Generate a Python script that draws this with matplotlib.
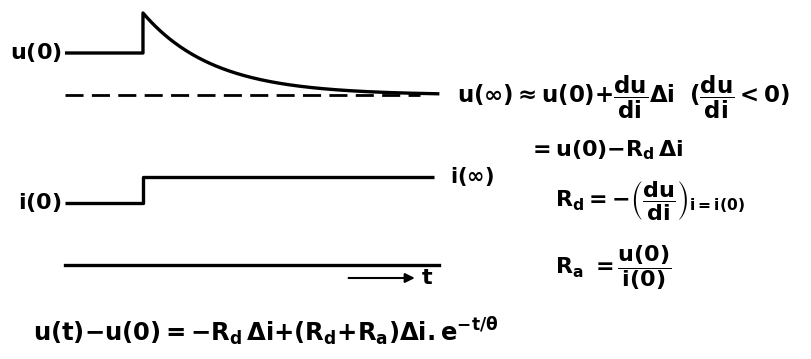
import numpy as np
import matplotlib.pyplot as plt

plt.rcParams['mathtext.fontset'] = 'dejavusans'
plt.rcParams['mathtext.default'] = 'bf'

# time axis (step happens at t = 0)
t_before = -1.0
t_step = 0.0
t_end = 3.8
theta = 0.9

# signal levels (diagram units)
u_0 = 3.06
u_peak = 3.46
u_inf = 2.64
i_0 = 1.56
i_inf = 1.82
axis_level = 0.94

# voltage trace: flat, jump, exponential decay to u_inf
t_decay = np.linspace(t_step, t_end, 200)
u_decay = u_inf + (u_peak - u_inf) * np.exp(-(t_decay - t_step) / theta)
u_t = np.concatenate([[t_before, t_step], t_decay])
u_v = np.concatenate([[u_0, u_0], u_decay])

# current trace: step from i_0 to i_inf
i_t = [t_before, t_step, t_step, t_end - 0.07]
i_v = [i_0, i_0, i_inf, i_inf]

fig = plt.figure(figsize=(8.12, 3.59), dpi=100)
ax = fig.add_axes([0, 0, 1, 1])
ax.set_xlim(-1.833, 8.577)
ax.set_ylim(0, 3.59)
ax.axis('off')

lw = 2.4
ax.plot(u_t, u_v, color='black', lw=lw, solid_capstyle='butt')
ax.plot([t_before, t_end - 0.25], [u_inf, u_inf], color='black', lw=2,
        linestyle=(0, (6.5, 3)))
ax.plot(i_t, i_v, color='black', lw=lw, solid_capstyle='butt')
ax.plot([t_before, t_end], [axis_level, axis_level], color='black', lw=lw)
ax.annotate('', xy=(3.52, axis_level - 0.13), xytext=(2.6, axis_level - 0.13),
            arrowprops=dict(arrowstyle='-|>', color='black', lw=1.5,
                            mutation_scale=14))

fs = 16
ax.text(-1.04, u_0, r'$u(0)$', ha='right', va='center', fontsize=fs)
ax.text(-1.04, i_0, r'$i(0)$', ha='right', va='center', fontsize=fs)
ax.text(3.57, axis_level - 0.13, r'$t$', ha='left', va='center', fontsize=fs)
ax.text(3.93, i_inf, r'$i(\infty)$', ha='left', va='center', fontsize=fs - 1)

ax.text(4.02, u_inf - 0.02,
        r'$u(\infty){\approx}u(0){+}\dfrac{du}{di}\Delta i\ \ (\dfrac{du}{di}{<}0)$',
        ha='left', va='center', fontsize=fs + 0.5)
ax.text(4.94, 2.09, r'${=}u(0){-}R_d\,\Delta i$', ha='left', va='center', fontsize=fs)
ax.text(5.28, 1.59, r'$R_d{=}{-}\left(\dfrac{du}{di}\right)_{i=i(0)}$',
        ha='left', va='center', fontsize=fs)
ax.text(5.28, 0.91, r'$R_a\ {=}\dfrac{u(0)}{i(0)}$', ha='left', va='center', fontsize=fs)
ax.text(-1.41, 0.27, r'$u(t){-}u(0){=}{-}R_d\,\Delta i{+}(R_d{+}R_a)\Delta i.e^{-t/\theta}$',
        ha='left', va='center', fontsize=fs + 1.5)

fig.savefig('out.png', dpi=100)
